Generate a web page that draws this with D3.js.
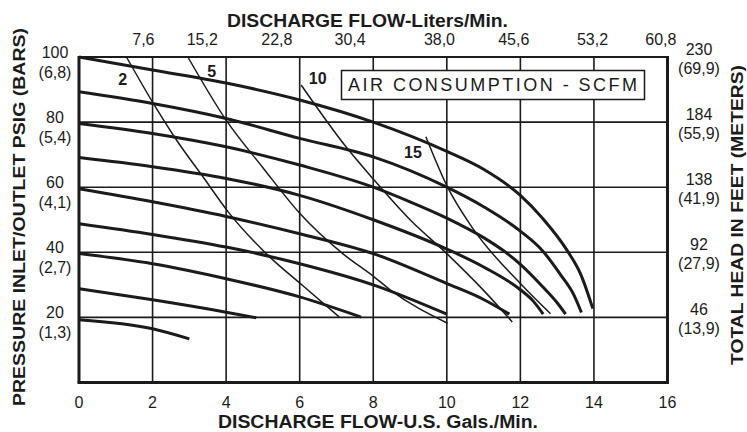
<!DOCTYPE html>
<html>
<head>
<meta charset="utf-8">
<script src="https://cdn.jsdelivr.net/npm/d3@7"></script>
<style>
  body { margin: 0; background: #fff; }
  svg { display: block; }
  text { font-family: "Liberation Sans", Arial, sans-serif; fill: #1b1b1b; }
</style>
</head>
<body>
<svg id="chart" width="747" height="432"></svg>
<script>
// --- data ---
var gpmTicks = [0, 2, 4, 6, 8, 10, 12, 14, 16];
var literLabels = ["7,6", "15,2", "22,8", "30,4", "38,0", "45,6", "53,2", "60,8"];
var literLabelAt = [1.75, 3.35, 5.38, 7.37, 9.8, 11.82, 13.96, 15.82]; // where each label sits (gpm)

var psiTicks = [100, 80, 60, 40, 20];
var barLabels = ["(6,8)", "(5,4)", "(4,1)", "(2,7)", "(1,3)"];
var feetLabels = ["230", "184", "138", "92", "46"];
var meterLabels = ["(69,9)", "(55,9)", "(41,9)", "(27,9)", "(13,9)"];

// inlet pressure curves [gpm, psi]
var curve100 = [[0,100],[2,96],[4,92],[6,86.8],[8,80],[10,71],[11,65.5],[12,57.5],[12.6,50.5],[13.27,40.6],[13.65,33],[13.97,22.7]];
var curve90  = [[0,89.3],[2,85.7],[4,81.1],[6,75],[8,69.3],[10,60],[11,54],[12,46.5],[12.6,40.5],[13.1,33],[13.45,27],[13.66,21.5]];
var curve80  = [[0,79.6],[2,76.5],[4,72.4],[6,66.8],[8,60],[9,55.5],[10,50.5],[11,44.5],[11.6,40],[12,36.3],[12.6,29.5],[13,24.5],[13.23,21]];
var curve70  = [[0,69.1],[2,66.3],[4,62.7],[6,57.5],[8,50],[10,41],[11,35.5],[12,28.5],[12.35,25],[12.62,21]];
var curve60  = [[0,59.5],[2,55.5],[4,51],[6,45.7],[8,39.6],[10,30.4],[11,25.5],[11.7,21]];
var curve50  = [[0,48.8],[2,45.5],[4,41.6],[6,36.5],[8,30],[10,21]];
var curve40  = [[0,39.6],[2,36.5],[4,31.9],[6,26.3],[7.67,20.1]];
var curve30  = [[0,28.8],[2,25.4],[4,21.6],[4.82,19.9]];
var curve20  = [[0,19.3],[2,16.5],[3,13.4]];

// air consumption lines [gpm, psi]
var scfm2  = [[1.29,100],[2.05,85.2],[2.65,74.5],[3.37,63.2],[4.05,52.5],[5.09,39.6],[6.08,29.8],[7.08,20.1]];
var scfm5  = [[2.96,100],[4,80.6],[5,66],[6,52],[7.17,39.6],[8.03,32.4],[8.48,28.3],[10.02,18.2]];
var scfm10 = [[6.04,91.4],[7.26,72.4],[8,62.5],[9,50],[10,39.6],[11,28.3],[11.78,18.6]];
var scfm15 = [[9.43,75.5],[10.02,60],[10.74,46.8],[12,30.4],[12.82,21.1]];

var scfmNames = ["2", "5", "10", "15"];
var scfmLabelAt = [[1.19,93.2],[3.61,95.7],[6.49,93.5],[9.08,70.7]];

var svg = d3.select("#chart");
var ink = "#1b1b1b";

var x = d3.scaleLinear().domain([0, 16]).range([79, 667.5]);
var y = d3.scaleLinear().domain([0, 100]).range([382.5, 57]);

// grid
svg.append("g").selectAll("line")
  .data(gpmTicks.slice(1, -1))
  .enter().append("line")
  .attr("x1", d => x(d)).attr("x2", d => x(d))
  .attr("y1", y(100)).attr("y2", y(0))
  .attr("stroke", ink).attr("stroke-width", 1.6);

svg.append("g").selectAll("line")
  .data([20, 40, 60, 80])
  .enter().append("line")
  .attr("x1", x(0)).attr("x2", x(16))
  .attr("y1", d => y(d)).attr("y2", d => y(d))
  .attr("stroke", ink).attr("stroke-width", 1.6);

// frame
svg.append("line").attr("x1", x(0)).attr("x2", x(16)).attr("y1", y(100)).attr("y2", y(100))
  .attr("stroke", ink).attr("stroke-width", 2.2);
svg.append("line").attr("x1", x(0) - 1.5).attr("x2", x(16) + 1.5).attr("y1", y(0)).attr("y2", y(0))
  .attr("stroke", ink).attr("stroke-width", 3);
svg.append("line").attr("x1", x(0)).attr("x2", x(0)).attr("y1", y(100) - 1).attr("y2", y(0))
  .attr("stroke", ink).attr("stroke-width", 3);
svg.append("line").attr("x1", x(16)).attr("x2", x(16)).attr("y1", y(100) - 1).attr("y2", y(0))
  .attr("stroke", ink).attr("stroke-width", 3);

// legend box
svg.append("rect")
  .attr("x", 341.5).attr("y", 70.5).attr("width", 303).attr("height", 29)
  .attr("fill", "#fff").attr("stroke", ink).attr("stroke-width", 1.5);
svg.append("text")
  .attr("x", 348).attr("y", 90.5)
  .attr("font-size", 18)
  .attr("textLength", 289).attr("lengthAdjust", "spacing")
  .text("AIR CONSUMPTION - SCFM");

var line = d3.line()
  .x(d => x(d[0])).y(d => y(d[1]))
  .curve(d3.curveMonotoneX);

// pressure curves
var pressureCurves = [curve100, curve90, curve80, curve70, curve60, curve50, curve40, curve30, curve20];
svg.append("g").selectAll("path")
  .data(pressureCurves)
  .enter().append("path")
  .attr("d", line)
  .attr("fill", "none").attr("stroke", ink)
  .attr("stroke-width", 3).attr("stroke-linecap", "butt");

// air consumption lines
var airLines = [scfm2, scfm5, scfm10, scfm15];
svg.append("g").selectAll("path")
  .data(airLines)
  .enter().append("path")
  .attr("d", line)
  .attr("fill", "none").attr("stroke", ink)
  .attr("stroke-width", 1.5);

svg.append("g").selectAll("text")
  .data(scfmNames)
  .enter().append("text")
  .attr("x", (d, i) => x(scfmLabelAt[i][0]))
  .attr("y", (d, i) => y(scfmLabelAt[i][1]))
  .attr("dy", "0.36em")
  .attr("text-anchor", "middle")
  .attr("font-size", 16).attr("font-weight", "bold")
  .text(d => d);

// bottom axis
svg.append("g").selectAll("text")
  .data(gpmTicks)
  .enter().append("text")
  .attr("x", d => x(d)).attr("y", 408)
  .attr("text-anchor", "middle").attr("font-size", 16)
  .text(d => d);

svg.append("text")
  .attr("x", 378).attr("y", 428)
  .attr("text-anchor", "middle")
  .attr("font-size", 18).attr("font-weight", "bold")
  .attr("textLength", 320).attr("lengthAdjust", "spacingAndGlyphs")
  .text("DISCHARGE FLOW-U.S. Gals./Min.");

// top axis
svg.append("g").selectAll("text")
  .data(literLabels)
  .enter().append("text")
  .attr("x", (d, i) => x(literLabelAt[i])).attr("y", 45)
  .attr("text-anchor", "middle").attr("font-size", 16)
  .text(d => d);

svg.append("text")
  .attr("x", 367.5).attr("y", 27)
  .attr("text-anchor", "middle")
  .attr("font-size", 18).attr("font-weight", "bold")
  .attr("textLength", 281).attr("lengthAdjust", "spacingAndGlyphs")
  .text("DISCHARGE FLOW-Liters/Min.");

// left axis
var left = svg.append("g").selectAll("g")
  .data(psiTicks)
  .enter().append("g");
left.append("text")
  .attr("x", 55).attr("y", d => y(d) + 1)
  .attr("text-anchor", "middle").attr("font-size", 16)
  .text(d => d);
left.append("text")
  .attr("x", 55).attr("y", d => y(d) + 21)
  .attr("text-anchor", "middle").attr("font-size", 16)
  .text((d, i) => barLabels[i]);

svg.append("text")
  .attr("transform", "translate(25,217) rotate(-90)")
  .attr("text-anchor", "middle")
  .attr("font-size", 17).attr("font-weight", "bold")
  .attr("textLength", 378).attr("lengthAdjust", "spacingAndGlyphs")
  .text("PRESSURE INLET/OUTLET PSIG (BARS)");

// right axis
var right = svg.append("g").selectAll("g")
  .data(psiTicks)
  .enter().append("g");
right.append("text")
  .attr("x", 699).attr("y", d => y(d) - 2)
  .attr("text-anchor", "middle").attr("font-size", 16)
  .text((d, i) => feetLabels[i]);
right.append("text")
  .attr("x", 699).attr("y", d => y(d) + 17)
  .attr("text-anchor", "middle").attr("font-size", 16)
  .text((d, i) => meterLabels[i]);

svg.append("text")
  .attr("transform", "translate(743,215) rotate(-90)")
  .attr("text-anchor", "middle")
  .attr("font-size", 17).attr("font-weight", "bold")
  .attr("textLength", 300).attr("lengthAdjust", "spacingAndGlyphs")
  .text("TOTAL HEAD IN FEET (METERS)");
</script>
</body>
</html>
